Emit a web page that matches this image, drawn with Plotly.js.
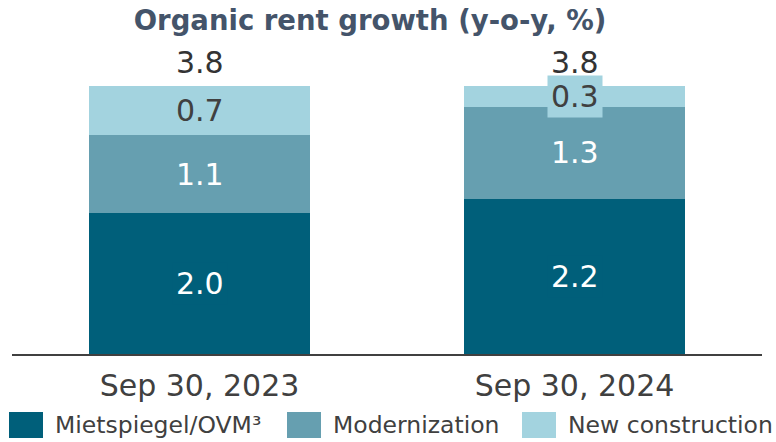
<!DOCTYPE html>
<html>
<head>
<meta charset="utf-8">
<script src="https://cdn.plot.ly/plotly-3.0.1.min.js"></script>
<style>
  html, body { margin: 0; padding: 0; background: #ffffff; }
  #chart { width: 776px; height: 442px; }
</style>
</head>
<body>
<div id="chart"></div>
<script>
const categories = ["Sep 30, 2023", "Sep 30, 2024"];
const mietspiegel = [2.0, 2.2];
const modernization = [1.1, 1.3];
const newConstruction = [0.7, 0.3];
const totals = [3.8, 3.8];
const seriesNames = ["Mietspiegel/OVM³", "Modernization", "New construction"];

const colors = ["#005f7a", "#669fb0", "#a3d3df"];
const labelColors = ["#ffffff", "#ffffff", "#404040"];
const FONT = "DejaVu Sans, Verdana, sans-serif";

const series = [mietspiegel, modernization, newConstruction];

const traces = series.map((vals, i) => ({
  type: "bar",
  name: seriesNames[i],
  x: categories,
  y: vals,
  marker: { color: colors[i], line: { width: 0 } },
  showlegend: false,
  hoverinfo: "skip"
}));

const annotations = [];
// segment labels
categories.forEach((cat, ci) => {
  let base = 0;
  series.forEach((vals, si) => {
    const v = vals[ci];
    annotations.push({
      x: cat, y: base + v / 2, xref: "x", yref: "y",
      text: v.toFixed(1), showarrow: false,
      font: { family: FONT, size: 30, color: labelColors[si] },
      bgcolor: colors[si], borderpad: 3,
      xanchor: "center", yanchor: "middle"
    });
    base += v;
  });
  annotations.push({
    x: cat, y: totals[ci], xref: "x", yref: "y",
    text: totals[ci].toFixed(1), showarrow: false,
    font: { family: FONT, size: 30, color: "#333333" },
    xanchor: "center", yanchor: "bottom", yshift: 4
  });
});

// custom legend (large swatches)
const plotL = 12, plotW = 750, plotBottom = 354, plotH = 294;
const px2x = p => (p - plotL) / plotW;
const py2y = p => (plotBottom - p) / plotH;
const legendSwatchX = [9, 287, 522];
const legendTextX = [53, 331, 566];
const shapes = [];
seriesNames.forEach((name, i) => {
  shapes.push({
    type: "rect", xref: "paper", yref: "paper",
    x0: px2x(legendSwatchX[i]), x1: px2x(legendSwatchX[i] + 34),
    y0: py2y(412), y1: py2y(438),
    fillcolor: colors[i], line: { width: 0 }
  });
  annotations.push({
    xref: "paper", yref: "paper",
    x: px2x(legendTextX[i]), y: py2y(425),
    text: name, showarrow: false,
    font: { family: FONT, size: 23.5, color: "#404040" },
    xanchor: "left", yanchor: "middle"
  });
});

const layout = {
  width: 776, height: 442,
  margin: { l: 12, r: 14, t: 60, b: 88 },
  paper_bgcolor: "#ffffff", plot_bgcolor: "#ffffff",
  barmode: "stack",
  bargap: 0.413,
  showlegend: false,
  title: {
    text: "<b>Organic rent growth (y-o-y, %)</b>",
    font: { family: FONT, size: 27.5, color: "#44546a" },
    x: 370 / 776, xanchor: "center", xref: "container",
    y: 1 - 20 / 442, yanchor: "middle", yref: "container"
  },
  xaxis: {
    type: "category",
    range: [-0.5, 1.5],
    showline: true, linecolor: "#404040", linewidth: 2,
    ticks: "", showgrid: false, zeroline: false,
    tickfont: { family: FONT, size: 30, color: "#404040" },
    ticklabelstandoff: 4
  },
  yaxis: {
    range: [0, 4.165],
    visible: false, showgrid: false, zeroline: false, fixedrange: true
  },
  annotations: annotations,
  shapes: shapes
};

Plotly.newPlot("chart", traces, layout, { displayModeBar: false, staticPlot: true });
</script>
</body>
</html>
